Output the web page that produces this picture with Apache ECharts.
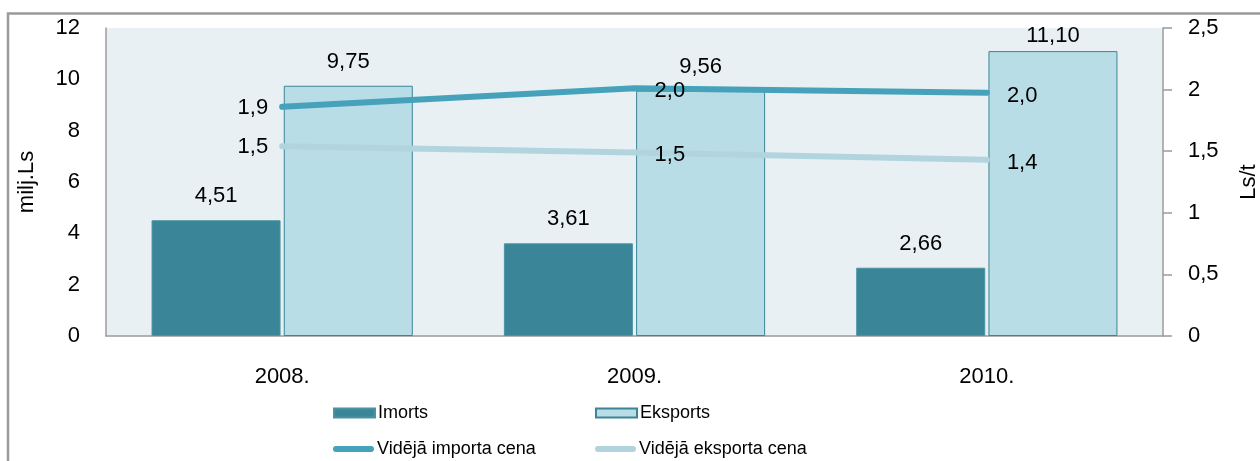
<!DOCTYPE html>
<html>
<head>
<meta charset="utf-8">
<script src="https://cdn.jsdelivr.net/npm/echarts@6/dist/echarts.min.js"></script>
<style>
  html, body { margin: 0; padding: 0; background: #fff; }
  #chart { width: 1260px; height: 461px; }
</style>
</head>
<body>
<div id="chart"></div>
<script>
// Years on the category axis
const years = ['2008.', '2009.', '2010.'];
// Trade volume, milj.Ls (left axis)
const importValues = [4.51, 3.61, 2.66];
const exportValues = [9.75, 9.56, 11.10];
// Average price, Ls/t (right axis)
const importPrice = [1.86, 2.01, 1.975];
const exportPrice = [1.54, 1.49, 1.43];
// Tick labels
const leftTicks = [0, 2, 4, 6, 8, 10, 12];
const rightTicks = ['0', '0,5', '1', '1,5', '2', '2,5'];
// Side of the point where each price label sits
const priceLabelSide = ['left', 'right', 'right'];

const FONT = '"Liberation Sans", Arial, sans-serif';
const FS = 22;
const LEGEND_FS = 18;
const DARK = '#3a8597';
const LIGHT = '#b8dde7';
const LINE_DARK = '#45a2ba';
const LINE_LIGHT = '#b2d4de';
const AXIS = '#9b9b9b';
const LEFT_MAX = 12;

const comma = (v, d) => v.toFixed(d).replace('.', ',');

function priceData(values) {
  return values.map((v, i) => ({
    value: v,
    label: {
      position: priceLabelSide[i],
      distance: priceLabelSide[i] === 'left' ? 14 : 20,
      offset: [0, priceLabelSide[i] === 'left' ? 1 : 3]
    }
  }));
}

// Labels of bars that reach close to the top of the plot are tucked in
function barData(values) {
  return values.map(v => ({
    value: v,
    label: { distance: v > LEFT_MAX - 1.5 ? 4 : 13 }
  }));
}

const chart = echarts.init(document.getElementById('chart'), null, { renderer: 'canvas' });

const legendText = { fontFamily: FONT, fontSize: LEGEND_FS, color: '#000' };
function legendAt(name, left, top, icon, w, h) {
  return {
    data: [name], left: left, top: top, icon: icon,
    itemWidth: w, itemHeight: h, itemGap: 0,
    textStyle: Object.assign({ padding: [0, 0, 0, -2] }, legendText),
    selectedMode: false, padding: 0
  };
}
const lineIcon = 'path://M3,0 L39,0 A3,3 0 0 1 39,6 L3,6 A3,3 0 0 1 3,0 Z';

const priceLabel = {
  show: true, fontSize: FS, color: '#000', fontFamily: FONT,
  formatter: p => comma(p.value, 1)
};

chart.setOption({
  animation: false,
  backgroundColor: '#fff',
  textStyle: { fontFamily: FONT },
  graphic: [{
    type: 'rect', z: 100, silent: true,
    shape: { x: 8, y: 13.5, width: 1300, height: 500 },
    style: { fill: 'none', stroke: AXIS, lineWidth: 2.5 }
  }],
  grid: {
    left: 106, right: 97, top: 28, bottom: 125,
    outerBoundsMode: 'none',
    containLabel: false,
    show: true, backgroundColor: '#e9f0f3', borderWidth: 0
  },
  legend: [
    legendAt('Imorts', 333, 404, 'rect', 41, 9),
    legendAt('Eksports', 595, 404, 'rect', 41, 9),
    legendAt('Vidējā importa cena', 333, 440, lineIcon, 41, 6),
    legendAt('Vidējā eksporta cena', 595, 440, lineIcon, 41, 6)
  ],
  xAxis: {
    type: 'category',
    data: years,
    axisLine: { lineStyle: { color: AXIS, width: 1.5 } },
    axisTick: { show: false },
    axisLabel: { margin: 30, fontSize: FS, color: '#000', fontFamily: FONT }
  },
  yAxis: [{
    type: 'value',
    min: 0, max: LEFT_MAX, interval: 2,
    name: 'milj.Ls',
    nameLocation: 'middle',
    nameRotate: 90,
    nameGap: 68,
    nameTextStyle: { fontSize: FS, color: '#000', fontFamily: FONT },
    axisLine: { show: true, lineStyle: { color: AXIS, width: 1.5 } },
    axisTick: { show: false },
    splitLine: { show: false },
    axisLabel: {
      margin: 26, fontSize: FS, color: '#000', fontFamily: FONT,
      formatter: v => leftTicks.includes(v) ? String(v) : ''
    }
  }, {
    type: 'value',
    min: 0, max: 2.5, interval: 0.5,
    name: 'Ls/t',
    nameLocation: 'middle',
    nameRotate: 90,
    nameGap: 75,
    nameTextStyle: { fontSize: FS, color: '#000', fontFamily: FONT },
    axisLine: { show: true, lineStyle: { color: AXIS, width: 1.5 } },
    axisTick: { show: true, length: 9, lineStyle: { color: AXIS, width: 1.5 } },
    splitLine: { show: false },
    axisLabel: {
      margin: 25, fontSize: FS, color: '#000', fontFamily: FONT,
      formatter: v => rightTicks[Math.round(v / 0.5)]
    }
  }],
  series: [{
    name: 'Imorts',
    type: 'bar',
    data: barData(importValues),
    barWidth: 129,
    barGap: '2.5%',
    itemStyle: { color: DARK, borderColor: '#4a93a3', borderWidth: 1 },
    label: {
      show: true, position: 'top',
      fontSize: FS, color: '#000', fontFamily: FONT,
      formatter: p => comma(p.value, 2)
    }
  }, {
    name: 'Eksports',
    type: 'bar',
    data: barData(exportValues),
    barWidth: 129,
    itemStyle: { color: LIGHT, borderColor: '#3a8597', borderWidth: 1 },
    label: {
      show: true, position: 'top',
      fontSize: FS, color: '#000', fontFamily: FONT,
      formatter: p => comma(p.value, 2)
    }
  }, {
    name: 'Vidējā importa cena',
    type: 'line',
    yAxisIndex: 1,
    data: priceData(importPrice),
    symbol: 'circle',
    symbolSize: 0.1,
    showSymbol: true,
    color: LINE_DARK,
    itemStyle: { color: LINE_DARK },
    lineStyle: { color: LINE_DARK, width: 6, cap: 'round', join: 'round' },
    z: 5,
    label: priceLabel
  }, {
    name: 'Vidējā eksporta cena',
    type: 'line',
    yAxisIndex: 1,
    data: priceData(exportPrice),
    symbol: 'circle',
    symbolSize: 0.1,
    showSymbol: true,
    color: LINE_LIGHT,
    itemStyle: { color: LINE_LIGHT },
    lineStyle: { color: LINE_LIGHT, width: 6, cap: 'round', join: 'round' },
    z: 4,
    label: priceLabel
  }]
});
</script>
</body>
</html>
